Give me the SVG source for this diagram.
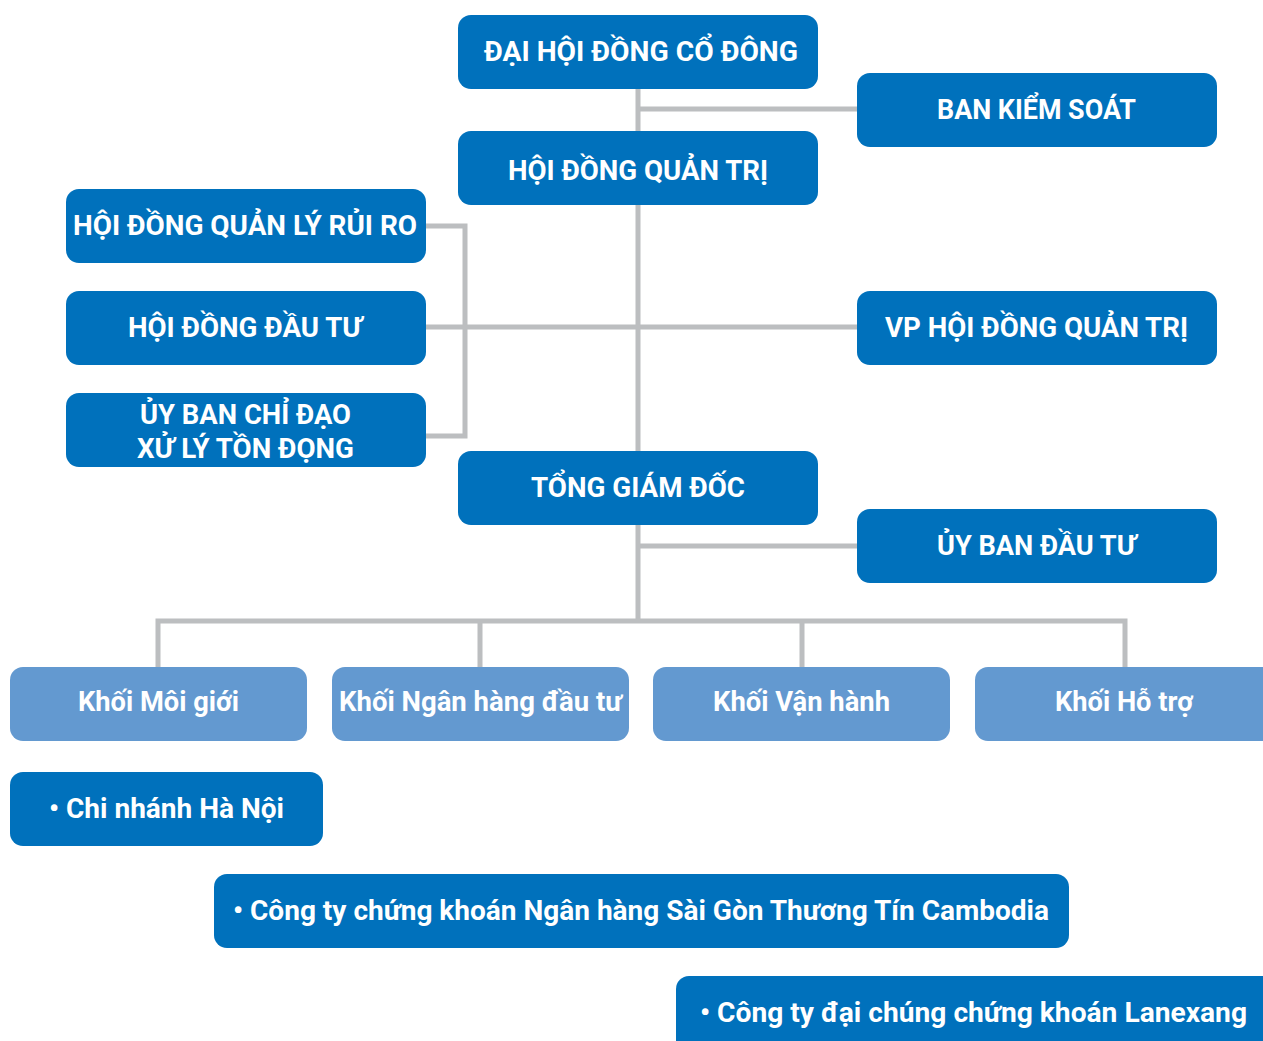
<svg xmlns="http://www.w3.org/2000/svg" width="1263" height="1041" viewBox="0 0 1263 1041">
<style>
.d{fill:#0071bc}
.l{fill:#6399d0}
.t{font-family:"Liberation Sans Narrow","Roboto",sans-serif;font-weight:bold;font-size:28px;fill:#fff;text-anchor:middle}
.c{stroke:#bcbec0;stroke-width:5;fill:none}
</style>
<rect width="1263" height="1041" fill="#fff"/>
<g id="connectors">
<path class="c" d="M638 89V620"/>
<path class="c" d="M638 109H857"/>
<path class="c" d="M426 226H465V436H426"/>
<path class="c" d="M426 327H857"/>
<path class="c" d="M638 546H857"/>
<path class="c" d="M158 667V621H1125V667"/>
<path class="c" d="M480 621V667M802 621V667"/>
</g>
<g id="dhdcd"><rect class="d" x="458" y="15" width="360" height="74" rx="13"/><text class="t" x="641" y="61" textLength="314" lengthAdjust="spacingAndGlyphs">ĐẠI HỘI ĐỒNG CỔ ĐÔNG</text></g>
<g id="bks"><rect class="d" x="857" y="73" width="360" height="74" rx="13"/><text class="t" x="1036.5" y="119" textLength="199" lengthAdjust="spacingAndGlyphs">BAN KIỂM SOÁT</text></g>
<g id="hdqt"><rect class="d" x="458" y="131" width="360" height="74" rx="13"/><text class="t" x="638" y="180" textLength="260" lengthAdjust="spacingAndGlyphs">HỘI ĐỒNG QUẢN TRỊ</text></g>
<g id="hdqlrr"><rect class="d" x="66" y="189" width="360" height="74" rx="13"/><text class="t" x="245" y="235" textLength="344" lengthAdjust="spacingAndGlyphs">HỘI ĐỒNG QUẢN LÝ RỦI RO</text></g>
<g id="hddt"><rect class="d" x="66" y="291" width="360" height="74" rx="13"/><text class="t" x="245" y="337" textLength="234" lengthAdjust="spacingAndGlyphs">HỘI ĐỒNG ĐẦU TƯ</text></g>
<g id="ubcd"><rect class="d" x="66" y="393" width="360" height="74" rx="13"/><text class="t" x="245.5" y="424" textLength="211" lengthAdjust="spacingAndGlyphs">ỦY BAN CHỈ ĐẠO</text><text class="t" x="245.5" y="458" textLength="217" lengthAdjust="spacingAndGlyphs">XỬ LÝ TỒN ĐỌNG</text></g>
<g id="vphdqt"><rect class="d" x="857" y="291" width="360" height="74" rx="13"/><text class="t" x="1036.5" y="337" textLength="303" lengthAdjust="spacingAndGlyphs">VP HỘI ĐỒNG QUẢN TRỊ</text></g>
<g id="tgd"><rect class="d" x="458" y="451" width="360" height="74" rx="13"/><text class="t" x="638" y="497" textLength="214" lengthAdjust="spacingAndGlyphs">TỔNG GIÁM ĐỐC</text></g>
<g id="ubdt"><rect class="d" x="857" y="509" width="360" height="74" rx="13"/><text class="t" x="1036.5" y="555" textLength="199" lengthAdjust="spacingAndGlyphs">ỦY BAN ĐẦU TƯ</text></g>
<g id="kmg"><rect class="l" x="10" y="667" width="297" height="74" rx="13"/><text class="t" x="158.5" y="711" textLength="161" lengthAdjust="spacingAndGlyphs">Khối Môi giới</text></g>
<g id="knhdt"><rect class="l" x="332" y="667" width="297" height="74" rx="13"/><text class="t" x="480.5" y="711" textLength="283" lengthAdjust="spacingAndGlyphs">Khối Ngân hàng đầu tư</text></g>
<g id="kvh"><rect class="l" x="653" y="667" width="297" height="74" rx="13"/><text class="t" x="801.5" y="711" textLength="177" lengthAdjust="spacingAndGlyphs">Khối Vận hành</text></g>
<g id="kht"><rect class="l" x="975" y="667" width="300" height="74" rx="13"/><text class="t" x="1124" y="711" textLength="138" lengthAdjust="spacingAndGlyphs">Khối Hỗ trợ</text></g>
<g id="cnhn"><rect class="d" x="10" y="772" width="313" height="74" rx="13"/><text class="t" x="166.5" y="818" textLength="235" lengthAdjust="spacingAndGlyphs">• Chi nhánh Hà Nội</text></g>
<g id="ctck"><rect class="d" x="214" y="874" width="855" height="74" rx="13"/><text class="t" x="641" y="920" textLength="816" lengthAdjust="spacingAndGlyphs">• Công ty chứng khoán Ngân hàng Sài Gòn Thương Tín Cambodia</text></g>
<g id="lanexang"><rect class="d" x="676" y="976" width="600" height="80" rx="13"/><text class="t" x="973.5" y="1022" textLength="547" lengthAdjust="spacingAndGlyphs">• Công ty đại chúng chứng khoán Lanexang</text></g>
</svg>
